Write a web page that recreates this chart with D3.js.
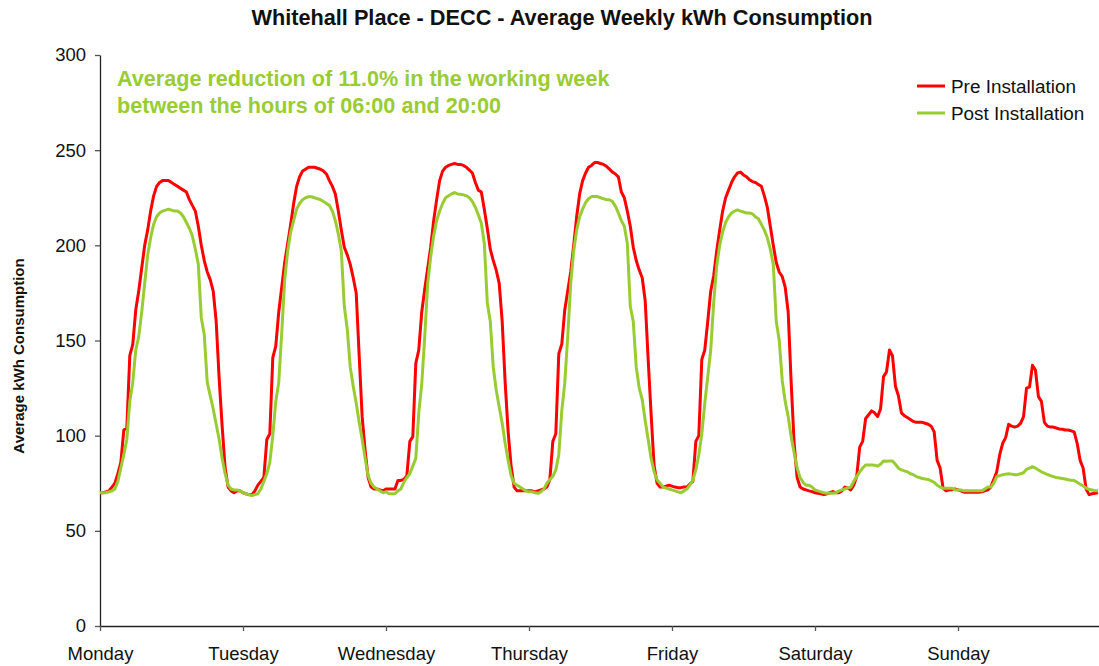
<!DOCTYPE html>
<html>
<head>
<meta charset="utf-8">
<script src="https://cdn.jsdelivr.net/npm/d3@7"></script>
<style>
  body { margin: 0; background: #fff; }
  svg { display: block; font-family: "Liberation Sans", Arial, sans-serif; }
</style>
</head>
<body>
<svg id="chart" width="1099" height="666"></svg>
<script>
// half-hourly readings, 48 per day
const days = ["Monday", "Tuesday", "Wednesday", "Thursday", "Friday", "Saturday", "Sunday"];
const yTicks = [0, 50, 100, 150, 200, 250, 300];

const preMon = [70,70,70.5,71,73,75,80,86,103,104, 142,148,166,176,188,200,208,218,226,231, 233,234,234,234,233,232,231,230,229,228, 224,221,218,210,200,192,186,182,176,160, 130,105,83,73,71,70,71,71];
const preTue = [70,69.5,69,69,71,74,76,78,98,101, 141,147,165,178,191,201,211,222,231,236, 239,240,241,241,241,240.5,240,239,237.5,234, 231,227,218,208,199,195,190,183,175,142, 110,92,78,73,72,72,71.5,71];
const preWed = [72,72,72,72,76.5,76.5,77,79,97,99.5, 138,145,165,177,188,199,213,224,234,239, 241,242,242.5,243,242.5,242.5,242,241,239.5,238, 233,229,228,219,209,198,192,187,180,160, 128,102,84,73,71,71,71,71];
const preThu = [71,71,70.5,71,71.5,72,73,77,97,101, 143,148,166,176,186,200,215,227,234,238, 241,242,243.5,243.5,243,242.5,241.5,240,238.5,237.5, 236,228,225,218,210,199,192,187,183,171, 140,111,84,75,73,73,73.5,74];
const preFri = [73.5,73,72.7,72.7,73,73,74.5,76,97,100, 140,145,160,176,184,197,208,218,225,229, 233,236,238,238.5,237,236,234.5,233.5,233,232, 231,226,220,210,200,191,186,183.6,178,165, 128,96,78,73,72,71.5,71,70.6];
const preSat = [70,69.7,69.5,69,69.5,70,70.6,70,70,71, 73,72.5,71.5,74,78.5,94,97,109,111,113, 112,110,114,131,133.5,145,142,126,121,112, 110.5,109.5,108.5,107.5,107,107,107,106.5,106,105, 102,87,83,72.4,71,71.5,71.6,72];
const preSun = [71.5,71,70.3,70.3,70.3,70.3,70.3,70.3,70.5,71, 71.5,73,77,81,90,96,99,106,105,104.5, 105,106.5,110,125,125.5,137,134.5,120.5,118,107, 105,104.5,104.5,104,103.5,103.4,103,103,102.5,102, 96,87,83,72,69,69.5,69.7,70];

const postMon = [70,70,70,70.5,71,72,76,83,90,98, 118,128,145,152,165,180,195,204,211,215, 217,218,218.5,219,218.5,218,218,217,215,212, 209,205,198,190,162,153,128,121,114,106, 98,88,80,74,72,71.5,71.5,71];
const postTue = [70,69.5,69,68.5,69,69.5,72,76,80,86, 100,118,128,154,182,197,207,213,219,222, 224,225,225.5,225.5,225,224.5,224,223,222,221, 218,213,206,197,168,156,136,126,117,107, 98,88,79,75,73,72,71,70];
const postWed = [70.5,69.5,69.5,69.5,71,72,75.5,78,80,84, 88,112,127,152,180,194,205,213,218,222, 225,226,227,227.7,227,226.8,226.5,226,225,223, 220,216,211.6,201,170,160,136,124,115,106.6, 96,87,79,75,74,73,72,71];
const postThu = [70.5,70.5,70,69.7,70.5,72,75,77,78.6,82, 90,113,127.6,152,180,197,208,215,219,222.5, 224.5,225.6,225.6,225.6,225,224.5,224,224,223,220.6, 217,213,210,201,168,160,136,125,119,108, 98,88,81,76.7,75,73,72.5,72];
const postFri = [71.5,71,70.5,70,71,72,74,76.7,82,90, 101,117,131,145,170,189,200,207,212,215, 217,218,218.6,218,217.5,217,217,216.5,215,214, 211,208,204,198,190,160,150,129,118,110, 99.5,91,83,78,75.5,74,74,73];
const postSat = [71.5,71,70.5,70,69.7,69.7,69.7,70,71,71.5, 72,72.5,73,76,78.5,81,83,84.6,84.6,84.6, 84.5,84,85,86.7,86.5,86.7,86.7,85,83,82, 81.5,81,80,79.5,78.5,78,77.5,77.2,77,76.2, 75.5,74,73,72.4,72.4,72.4,72.4,71.5];
const postSun = [71.5,71.5,71,71,71,71,71,71,71,72, 73,73,75,78.5,79,79.5,79.8,80,79.8,79.5, 79.5,80,80.5,82.3,83,83.7,83,82,81,80.3, 79.6,79,78.5,78,77.8,77.5,77.2,76.8,76.6,76.4, 75.5,74.5,73.5,72.5,71.8,71.5,71,71];

const pre = d3.merge([preMon, preTue, preWed, preThu, preFri, preSat, preSun]);
const post = d3.merge([postMon, postTue, postWed, postThu, postFri, postSat, postSun]);

const series = [
  { name: "Pre Installation", values: pre, color: "#ff0000" },
  { name: "Post Installation", values: post, color: "#99cc33" }
];

const perDay = 48;
const svg = d3.select("#chart");

const x = d3.scaleLinear()
  .domain([0, days.length * perDay])
  .range([100, 1101]);

const y = d3.scaleLinear()
  .domain([0, 300])
  .range([626, 55]);

// axes
const yAxis = svg.append("g")
  .attr("transform", "translate(100,0)")
  .call(d3.axisLeft(y).tickValues(yTicks).tickSize(5).tickPadding(9).tickSizeOuter(0));

const xAxis = svg.append("g")
  .attr("transform", "translate(0,626)")
  .call(d3.axisBottom(x)
    .tickValues(days.map((d, i) => i * perDay))
    .tickFormat((d, i) => days[i])
    .tickSize(5)
    .tickPadding(16)
    .tickSizeOuter(0));

[yAxis, xAxis].forEach(g => {
  g.select(".domain").attr("stroke", "#222").attr("stroke-width", 1.3);
  g.selectAll(".tick line").attr("stroke", "#555").attr("stroke-width", 1.3);
  g.selectAll("text")
    .attr("font-family", "Liberation Sans, Arial, sans-serif")
    .attr("font-size", 18.5)
    .attr("fill", "#111");
});

// lines
const line = d3.line()
  .x((d, i) => x(i))
  .y(d => y(d));

svg.append("g")
  .selectAll("path")
  .data(series)
  .join("path")
  .attr("fill", "none")
  .attr("stroke", d => d.color)
  .attr("stroke-width", 3)
  .attr("stroke-linejoin", "round")
  .attr("d", d => line(d.values));

// title
svg.append("text")
  .attr("x", 562)
  .attr("y", 25)
  .attr("text-anchor", "middle")
  .attr("font-weight", "bold")
  .attr("font-size", 21.7)
  .attr("fill", "#111")
  .text("Whitehall Place - DECC - Average Weekly kWh Consumption");

// y label
svg.append("text")
  .attr("transform", "translate(24,356) rotate(-90)")
  .attr("text-anchor", "middle")
  .attr("font-weight", "bold")
  .attr("font-size", 15)
  .attr("fill", "#111")
  .text("Average kWh Consumption");

// annotation
const note = svg.append("text")
  .attr("font-weight", "bold")
  .attr("font-size", 21.6)
  .attr("fill", "#99cc33");
note.append("tspan").attr("x", 117).attr("y", 86).text("Average reduction of 11.0% in the working week");
note.append("tspan").attr("x", 117).attr("y", 113).text("between the hours of 06:00 and 20:00");

// legend
const legend = svg.append("g")
  .selectAll("g")
  .data(series)
  .join("g")
  .attr("transform", (d, i) => `translate(917,${86 + i * 27})`);

legend.append("line")
  .attr("x1", 0)
  .attr("x2", 28)
  .attr("stroke", d => d.color)
  .attr("stroke-width", 3);

legend.append("text")
  .attr("x", 34)
  .attr("y", 7)
  .attr("font-size", 18.9)
  .attr("fill", "#111")
  .text(d => d.name);
</script>
</body>
</html>
